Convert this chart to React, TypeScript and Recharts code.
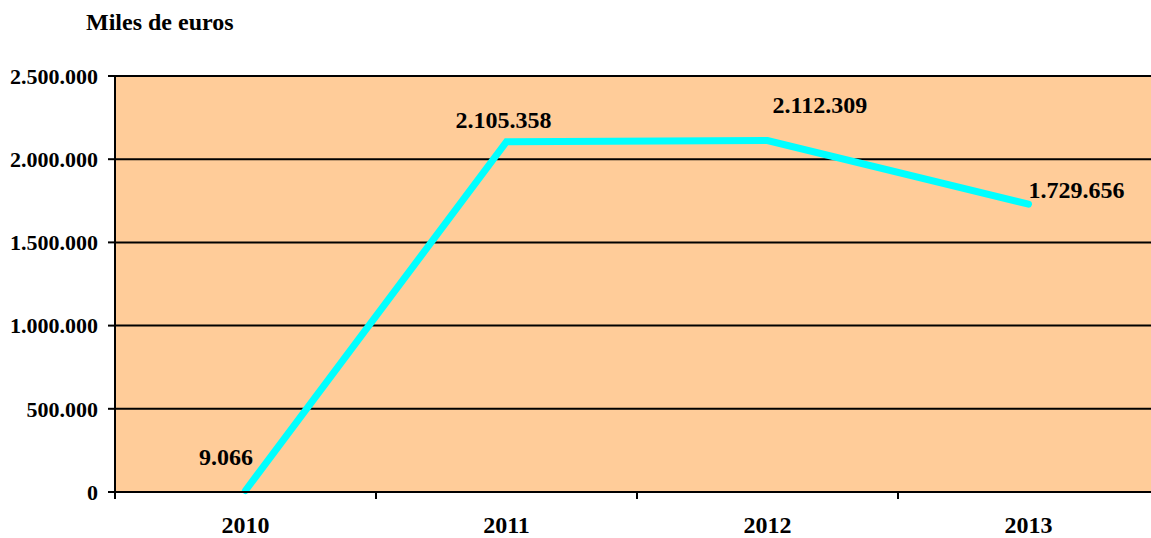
import React from "react";
import { LineChart, Line, CartesianGrid, XAxis, YAxis } from "recharts";

const years = ["2010", "2011", "2012", "2013"];
const amounts = [9066, 2105358, 2112309, 1729656];
const yTicks = [0, 500000, 1000000, 1500000, 2000000, 2500000];

const data = years.map((year, i) => ({ year, amount: amounts[i] }));

const FONT = '"Liberation Serif", "Times New Roman", serif';
const HALF_BAND = 130.5;

// thousands separated with dots, as in the source
const fmt = (n: number) => String(Math.round(n)).replace(/\B(?=(\d{3})+(?!\d))/g, ".");

// where each value label sits relative to its point
const labelPlace = [
  { dx: -19.5, dy: -25, anchor: "middle" },
  { dx: -3, dy: -14, anchor: "middle" },
  { dx: 5, dy: -28, anchor: "start" },
  { dx: 0, dy: -6, anchor: "start" },
];

const ValueLabel = (props: any) => {
  const { x, y, value, index } = props;
  const p = labelPlace[index] || { dx: 0, dy: -10, anchor: "middle" };
  return (
    <text x={x + p.dx} y={y + p.dy} textAnchor={p.anchor} fontFamily={FONT} fontWeight="bold" fontSize={24} fill="#000">
      {fmt(value)}
    </text>
  );
};

const YearTick = (props: any) => {
  const { x, y, payload, index } = props;
  return (
    <g>
      <line x1={x - HALF_BAND} y1={y} x2={x - HALF_BAND} y2={y + 7} stroke="#000" strokeWidth={2} />
      {index === years.length - 1 && (
        <line x1={x + HALF_BAND} y1={y} x2={x + HALF_BAND} y2={y + 7} stroke="#000" strokeWidth={2} />
      )}
      <text x={x} y={y + 41} textAnchor="middle" fontFamily={FONT} fontWeight="bold" fontSize={24} fill="#000">
        {payload.value}
      </text>
    </g>
  );
};

export default function App() {
  return (
    <div style={{ position: "absolute", left: 0, top: 0, width: 1151, height: 538, overflow: "hidden", background: "#fff" }}>
      <div
        style={{
          position: "absolute",
          left: 86,
          top: 10,
          fontFamily: FONT,
          fontWeight: "bold",
          fontSize: 24,
          lineHeight: "24px",
          whiteSpace: "nowrap",
        }}
      >
        Miles de euros
      </div>
      <LineChart width={1160} height={538} data={data} margin={{ top: 76, right: 1, bottom: 0, left: 0 }}>
        <CartesianGrid vertical={false} fill="#FFCC99" fillOpacity={1} stroke="#000" strokeWidth={2} />
        <XAxis
          dataKey="year"
          padding={{ left: HALF_BAND, right: HALF_BAND }}
          height={46}
          tickSize={0}
          tickMargin={0}
          tickLine={false}
          axisLine={{ stroke: "#000", strokeWidth: 2 }}
          tick={<YearTick />}
          interval={0}
        />
        <YAxis
          width={115}
          domain={[0, 2500000]}
          ticks={yTicks}
          interval={0}
          tickFormatter={fmt}
          tickSize={7}
          tickMargin={10}
          tickLine={{ stroke: "#000", strokeWidth: 2 }}
          axisLine={{ stroke: "#000", strokeWidth: 2 }}
          tick={{ fill: "#000", fontFamily: FONT, fontWeight: "bold", fontSize: 22 }}
        />
        <Line
          type="linear"
          dataKey="amount"
          stroke="#00FFFF"
          strokeWidth={7}
          strokeLinecap="round"
          strokeLinejoin="miter"
          dot={false}
          activeDot={false}
          label={<ValueLabel />}
          isAnimationActive={false}
        />
      </LineChart>
    </div>
  );
}
